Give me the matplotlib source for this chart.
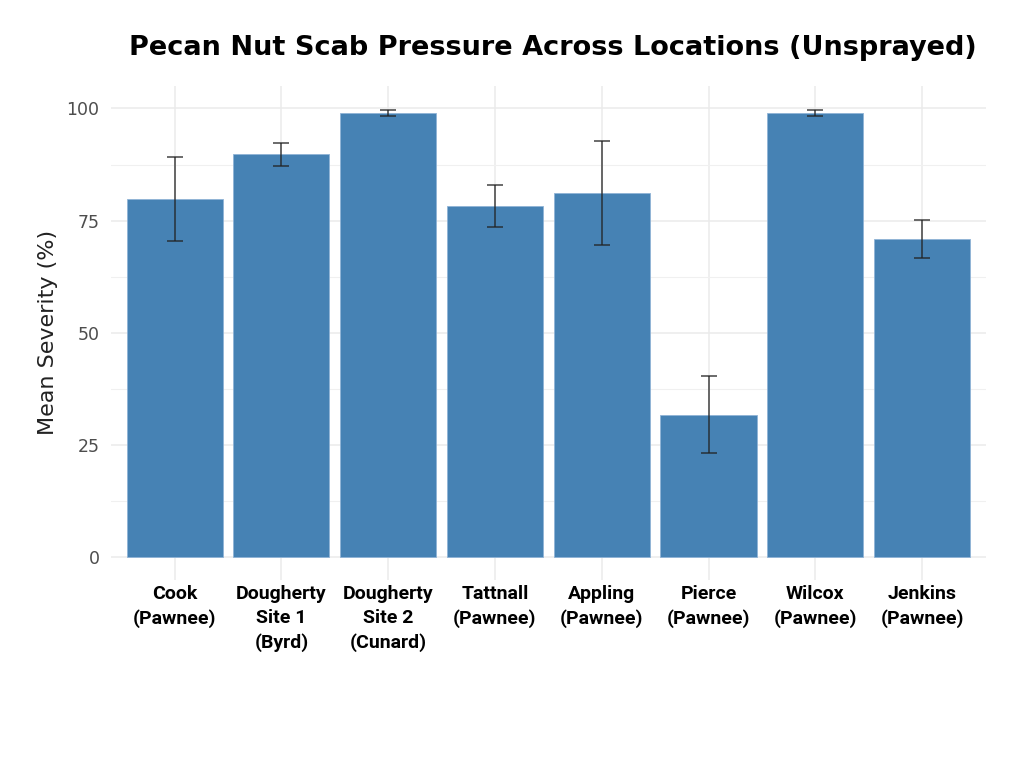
import matplotlib
matplotlib.use("Agg")
import matplotlib.pyplot as plt
import numpy as np
from matplotlib.ticker import MultipleLocator

categories = ["Cook\n(Pawnee)", "Dougherty\nSite 1\n(Byrd)", "Dougherty\nSite 2\n(Cunard)",
              "Tattnall\n(Pawnee)", "Appling\n(Pawnee)", "Pierce\n(Pawnee)",
              "Wilcox\n(Pawnee)", "Jenkins\n(Pawnee)"]
mean_severity = [79.8, 89.9, 99.0, 78.3, 81.2, 31.8, 99.0, 71.0]
err_low = [70.4, 87.1, 98.4, 73.6, 69.6, 23.2, 98.2, 66.6]
err_high = [89.2, 92.4, 99.6, 83.0, 92.8, 40.3, 99.7, 75.2]

fig = plt.figure(figsize=(10.24, 7.68), dpi=100)
ax = fig.add_axes([0.108, 0.245, 0.855, 0.643])

x = np.arange(1, len(categories) + 1)
mean = np.array(mean_severity)
yerr = [mean - np.array(err_low), np.array(err_high) - mean]

ax.bar(x, mean, width=0.9, color="#4682B4", edgecolor="#8fb3d6", linewidth=0.6, zorder=2)
ax.errorbar(x, mean, yerr=yerr, fmt="none", ecolor="#222222", elinewidth=1.1,
            capsize=6, capthick=1.1, alpha=0.85, zorder=3)

ax.set_xlim(0.4, len(categories) + 0.6)
ax.set_ylim(-5, 104.98)
ax.yaxis.set_major_locator(MultipleLocator(25))
ax.yaxis.set_minor_locator(MultipleLocator(12.5))
ax.set_xticks(x)
ax.set_xticklabels(categories, fontsize=14, fontweight="bold",
                   family=["Roboto", "DejaVu Sans"], linespacing=1.4)
ax.grid(which="major", color="#ebebeb", linewidth=1.1, zorder=0)
ax.grid(which="minor", axis="y", color="#f0f0f0", linewidth=0.8, zorder=0)
ax.set_axisbelow(True)
for s in ax.spines.values():
    s.set_visible(False)
ax.tick_params(axis="both", which="both", length=0)
ax.tick_params(axis="y", labelsize=12.5, labelcolor="#4d4d4d", pad=8)
ax.tick_params(axis="x", pad=4)
ax.set_ylabel("Mean Severity (%)", fontsize=16, color="#222222", labelpad=6)

fig.text(0.54, 0.938, "Pecan Nut Scab Pressure Across Locations (Unsprayed)",
         ha="center", va="center", fontsize=19.5, fontweight="bold", color="black")

fig.savefig("out.png", dpi=100, facecolor="white")
